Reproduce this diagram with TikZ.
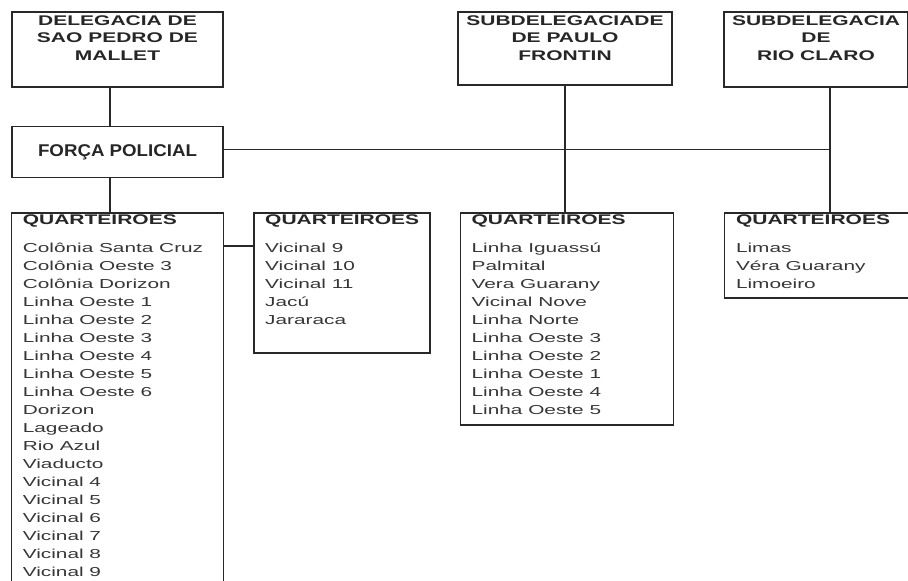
\documentclass[tikz,border=0pt]{standalone}
\usepackage{fontspec}
\setmainfont{Liberation Sans}
\newfontfamily\headfont[FakeStretch=1.5]{Liberation Sans}
\newfontfamily\listfont[FakeStretch=1.6]{Liberation Sans}
\newfontfamily\fpfont[FakeStretch=1.1]{Liberation Sans}
\usetikzlibrary{positioning}
\definecolor{linegray}{HTML}{282828}
\definecolor{textgray}{HTML}{363636}
\newcommand{\qhead}{{\color{black!85}\headfont\fontsize{14}{18}\selectfont\textbf{QUARTEIROES}}}

\begin{document}
\begin{tikzpicture}[x=1pt, y=-1pt, line width=1.4pt,
  unit/.style = {draw=linegray, rectangle, inner sep=0pt},
  link/.style = {linegray},
  title/.style = {anchor=north, yshift=0pt, align=center, text=black!85, font=\headfont\bfseries\fontsize{14}{17.5}\selectfont},
  list/.style = {anchor=north west, xshift=8pt, yshift=1pt, align=left, text=textgray, font=\listfont\fontsize{13}{18}\selectfont}]
    \path[use as bounding box, clip] (0,0) rectangle (908,581);
    \node[unit, minimum width=211pt, minimum height=75pt,
          label={[title]north:{DELEGACIA DE\\SAO PEDRO DE\\MALLET}}] (dsp) at (117.5,49.5) {};
    \node[unit, minimum width=214pt, minimum height=73pt,
          label={[title]north:{SUBDELEGACIADE\\DE PAULO\\FRONTIN}}] (spf) at (565,48.5) {};
    \node[unit, minimum width=184pt, minimum height=75pt,
          label={[title]north:{SUBDELEGACIA\\DE\\RIO CLARO}}] (src) at (816,49.5) {};
    \node[unit, minimum width=211pt, minimum height=51pt, text=black!85,
          font=\fpfont\bfseries\fontsize{17}{20}\selectfont, below=38pt of dsp] (fp) {FORÇA POLICIAL};
    \node[unit, minimum width=212pt, minimum height=400pt, below=34pt of fp,
          label={[list]north west:{\qhead\\[10pt]Colônia Santa Cruz\\Colônia Oeste 3\\Colônia Dorizon\\Linha Oeste 1\\Linha Oeste 2\\Linha Oeste 3\\Linha Oeste 4\\Linha Oeste 5\\Linha Oeste 6\\Dorizon\\Lageado\\Rio Azul\\Viaducto\\Vicinal 4\\Vicinal 5\\Vicinal 6\\Vicinal 7\\Vicinal 8\\Vicinal 9}}] (q1) {};
    \node[unit, minimum width=176pt, minimum height=140pt, right=29pt of q1.north east, anchor=north west,
          label={[list]north west:{\qhead\\[10pt]Vicinal 9\\Vicinal 10\\Vicinal 11\\Jacú\\Jararaca}}] (q2) {};
    \node[unit, minimum width=213pt, minimum height=212pt, right=29pt of q2.north east, anchor=north west,
          label={[list]north west:{\qhead\\[10pt]Linha Iguassú\\Palmital\\Vera Guarany\\Vicinal Nove\\Linha Norte\\Linha Oeste 3\\Linha Oeste 2\\Linha Oeste 1\\Linha Oeste 4\\Linha Oeste 5}}] (q3) {};
    \node[unit, minimum width=195pt, minimum height=85pt, right=50pt of q3.north east, anchor=north west,
          label={[list]north west:{\qhead\\[10pt]Limas\\Véra Guarany\\Limoeiro}}] (q4) {};
    % connectors
    \coordinate (rc) at ([xshift=14pt]src.south);
    \coordinate (fj) at ([yshift=2.5pt]fp.east);
    \coordinate (qa) at ([yshift=-34pt]q1.north east);
    \draw[link] ([xshift=-7.5pt]dsp.south) -- ([xshift=-7.5pt]fp.north);
    \draw[link] ([xshift=-7.5pt]fp.south) -- ([xshift=-7.5pt]fp.south |- q1.north);
    \draw[link] (fj) -- (fj -| rc);
    \draw[link] (spf.south) -- (spf.south |- q3.north);
    \draw[link] (rc) -- (rc |- q4.north);
    \draw[link] (qa) -- (qa -| q2.west);
\end{tikzpicture}
\end{document}
